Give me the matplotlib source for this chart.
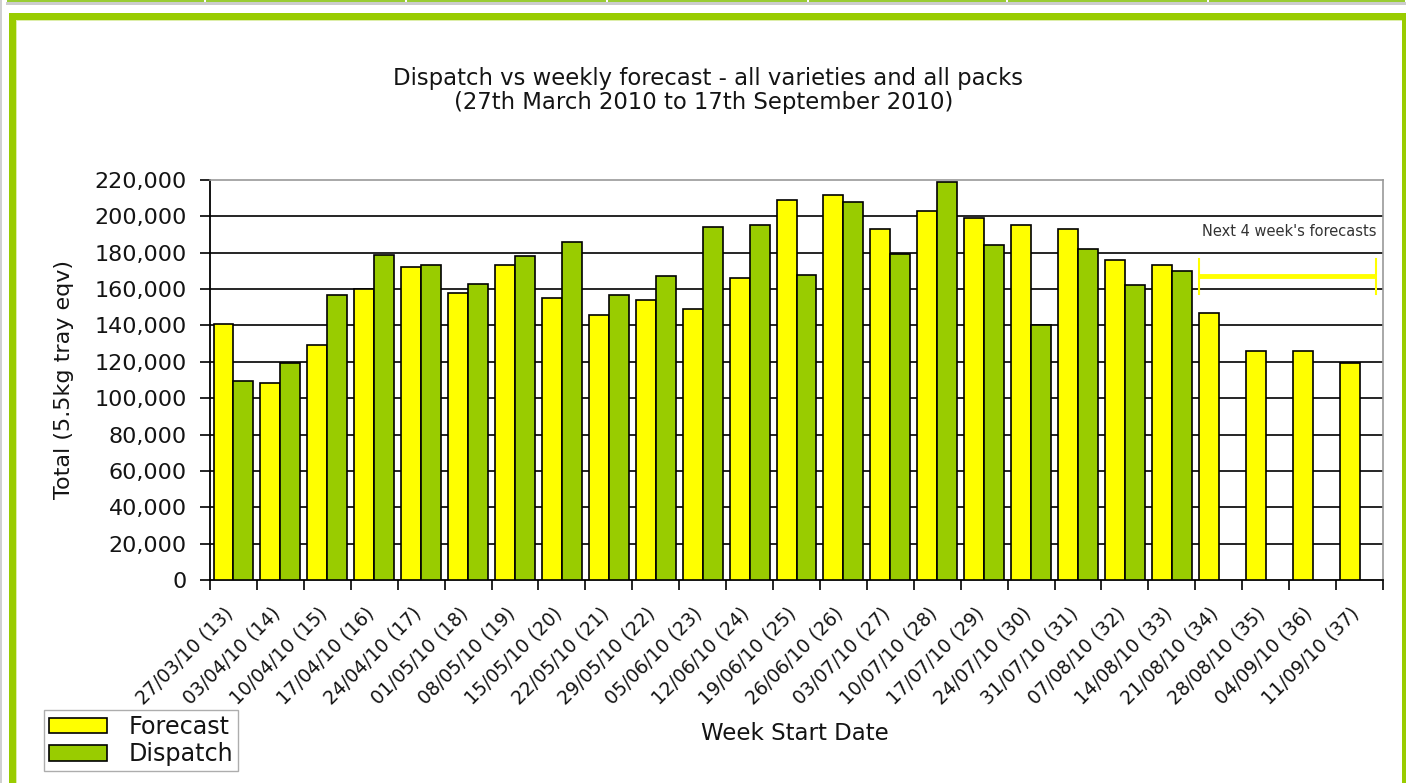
import numpy as np
import matplotlib
matplotlib.use("Agg")
import matplotlib.pyplot as plt
from matplotlib.patches import Rectangle

plt.rcParams['font.family'] = ['DejaVu Sans']

week_labels = ["27/03/10 (13)", "03/04/10 (14)", "10/04/10 (15)", "17/04/10 (16)",
               "24/04/10 (17)", "01/05/10 (18)", "08/05/10 (19)", "15/05/10 (20)",
               "22/05/10 (21)", "29/05/10 (22)", "05/06/10 (23)", "12/06/10 (24)",
               "19/06/10 (25)", "26/06/10 (26)", "03/07/10 (27)", "10/07/10 (28)",
               "17/07/10 (29)", "24/07/10 (30)", "31/07/10 (31)", "07/08/10 (32)",
               "14/08/10 (33)", "21/08/10 (34)", "28/08/10 (35)", "04/09/10 (36)",
               "11/09/10 (37)"]
forecast = [141000, 108500, 129500, 160000, 172000, 158000, 173000, 155000,
            146000, 154000, 149000, 166000, 209000, 212000, 193000, 203000,
            199000, 195000, 193000, 176000, 173000, 147000, 126000, 126000, 119500]
dispatch = [109500, 119500, 157000, 179000, 173000, 163000, 178000, 186000,
            157000, 167000, 194000, 195000, 168000, 208000, 179500, 219000,
            184000, 140500, 182000, 162000, 170000, np.nan, np.nan, np.nan, np.nan]
y_ticks = [0, 20000, 40000, 60000, 80000, 100000, 120000, 140000, 160000,
           180000, 200000, 220000]
next_weeks_start, next_weeks_end = 21, 24   # forecast-only weeks (index range)
bracket_level = 167000

TXT = '#141414'
W, H = 1406, 783
fig = plt.figure(figsize=(W / 100, H / 100), dpi=100)

def px(x0, y0, w, h, **kw):
    fig.patches.append(Rectangle((x0 / W, 1 - (y0 + h) / H), w / W, h / H,
                                 transform=fig.transFigure, **kw))

# page decoration
px(0, 0, 2, H, color='#d0d0d0', lw=0)
px(6, 1.7, W, 3, color='#cccccc', lw=0)
seps = [6, 205, 406, 607, 808, 1007, 1208, W]
for a, b in zip(seps[:-1], seps[1:]):
    px(a + 1, 0, b - a - 2, 1.7, color='#99cc33', lw=0)
px(9, 13, W - 9, 7, color='#99cc00', lw=0)
px(9, 13, 7, H - 13, color='#99cc00', lw=0)
px(1401.5, 13, W - 1401.5, H - 13, color='#99cc00', lw=0)
px(16, 20, 1385.5, 1.2, color='#ddeeaa', lw=0)
px(16, 20, 1.2, H - 20, color='#ddeeaa', lw=0)

left, right, top, bottom = 210, 1383, 180, 580
ax = fig.add_axes([left / W, 1 - bottom / H, (right - left) / W, (bottom - top) / H])

n = len(week_labels)
x = np.arange(n)
bw = 0.425
ax.bar(x - bw / 2, forecast, width=bw, color='#ffff00', edgecolor='black',
       linewidth=1.2, label='Forecast', zorder=3)
ax.bar(x + bw / 2, dispatch, width=bw, color='#99cc00', edgecolor='black',
       linewidth=1.2, label='Dispatch', zorder=3)

ax.set_xlim(-0.5, n - 0.5)
ax.set_ylim(0, 220000)
ax.set_yticks(y_ticks)
ax.set_yticklabels([f"{v:,}" for v in y_ticks], fontsize=16, color=TXT)
for v in y_ticks[1:-1]:
    ax.axhline(v, color='black', lw=1.2, zorder=1)

ax.set_xticks(np.arange(n + 1) - 0.5)
ax.set_xticklabels([])
label_offset = 0.21   # rotated labels end slightly left of the category centre
ax.set_xticks(x - label_offset, minor=True)
ax.set_xticklabels(week_labels, minor=True, rotation=45, ha='right',
                   rotation_mode='anchor', fontsize=13.5, color=TXT)
ax.tick_params(axis='x', which='minor', length=0, pad=17)
ax.tick_params(axis='x', which='major', length=7.2, width=1.2, direction='out')
ax.tick_params(axis='y', length=7.2, width=1.2, direction='out', pad=9.5)

for s in ['top', 'right']:
    ax.spines[s].set_color('#999999')
    ax.spines[s].set_linewidth(1.2)
for s in ['left', 'bottom']:
    ax.spines[s].set_color('black')
    ax.spines[s].set_linewidth(1.3)

fig.text(64 / W, 1 - 380 / H, 'Total (5.5kg tray eqv)', rotation=90,
         ha='center', va='center', fontsize=16, color=TXT)

# forecast bracket
xa, xb = next_weeks_start - 0.42, next_weeks_end + 0.35
ax.plot([xa, xb], [bracket_level, bracket_level], color='#ffff00', lw=3.5,
        solid_capstyle='butt', zorder=4)
for xx in (xa, xb):
    ax.plot([xx, xx], [bracket_level - 9500, bracket_level + 9500],
            color='#ffff00', lw=1.5, zorder=4)
fig.text(1377 / W, 1 - 232 / H, "Next 4 week's forecasts", ha='right',
         va='center', fontsize=10.5, color='#333333')

fig.text(708 / W, 1 - 78 / H,
         "Dispatch vs weekly forecast - all varieties and all packs",
         ha='center', va='center', fontsize=16.4, color=TXT)
fig.text(704 / W, 1 - 103 / H,
         "(27th March 2010 to 17th September 2010)",
         ha='center', va='center', fontsize=16.4, color=TXT)
fig.text(795 / W, 1 - 734 / H, 'Week Start Date', ha='center', va='center',
         fontsize=16.5, color=TXT)

leg = fig.legend(loc='lower left', bbox_to_anchor=(44 / W, 1 - 771 / H),
                 fontsize=17.2, frameon=True, fancybox=False, borderpad=0.2,
                 handlelength=2.45, handleheight=0.62, handletextpad=0.9,
                 labelspacing=0.14, borderaxespad=0)
leg.get_frame().set_edgecolor('#999999')
leg.get_frame().set_linewidth(1.0)
for t in leg.get_texts():
    t.set_color(TXT)

fig.savefig('out.png', dpi=100, facecolor='white')
